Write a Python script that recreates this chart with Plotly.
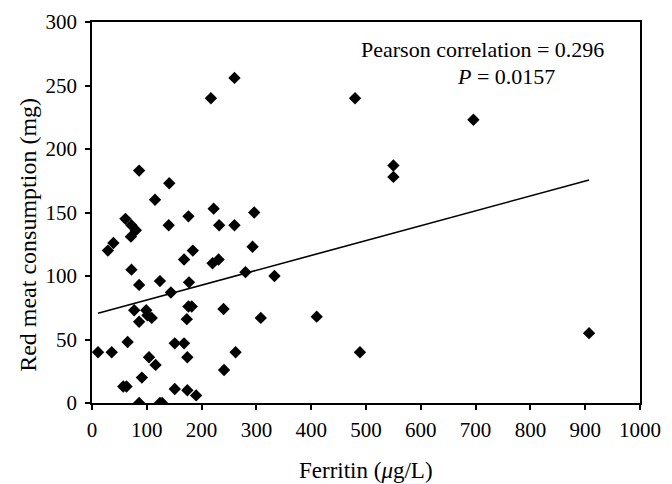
import plotly.graph_objects as go

ferritin = [11, 36, 29, 39, 61, 71, 72, 80, 72, 86, 86, 65, 77, 86, 99, 101, 109,
            57, 63, 91, 86, 104, 116, 124, 128, 115, 124, 141, 140, 144, 151, 151,
            168, 174, 174, 190, 173, 176, 182, 177, 168, 184, 176, 217, 260, 222,
            232, 260, 220, 231, 240, 241, 262, 293, 296, 280, 333, 308, 410, 489,
            480, 696, 550, 550, 907]
red_meat = [40, 40, 120, 126, 145, 131, 140, 136, 105, 93, 183, 48, 73, 64, 73, 69, 67,
            13, 13, 20, 0, 36, 30, 0, 0, 160, 96, 173, 140, 87, 47, 11,
            47, 36, 10, 6, 66, 76, 76, 95, 113, 120, 147, 240, 256, 153,
            140, 140, 110, 113, 74, 26, 40, 123, 150, 103, 100, 67, 68, 40,
            240, 223, 187, 178, 55]

trend_x = [11, 907]
trend_y = [70.6, 175.6]

x_ticks = [0, 100, 200, 300, 400, 500, 600, 700, 800, 900, 1000]
y_ticks = [0, 50, 100, 150, 200, 250, 300]

FONT = "Liberation Serif"

fig = go.Figure()
fig.add_trace(go.Scatter(x=trend_x, y=trend_y, mode="lines",
                         line=dict(color="black", width=1.6), showlegend=False,
                         hoverinfo="skip"))
fig.add_trace(go.Scatter(x=ferritin, y=red_meat, mode="markers",
                         marker=dict(symbol="diamond", size=9.5, color="black"),
                         showlegend=False))

axis_common = dict(showgrid=False, zeroline=False, showline=True, linecolor="black",
                   linewidth=1.5, mirror=True, ticks="outside", ticklen=5,
                   tickcolor="black", tickwidth=1.5, automargin=False,
                   tickfont=dict(family=FONT, size=21, color="black"))

fig.update_xaxes(range=[0, 1000], tickvals=x_ticks, ticktext=[str(v) for v in x_ticks],
                 ticklabelstandoff=2, **axis_common)
fig.update_yaxes(range=[0, 300], tickvals=y_ticks, ticktext=[str(v) for v in y_ticks],
                 ticklabelstandoff=4, **axis_common)

# axis titles
fig.add_annotation(x=0.5, y=-0.176, xref="paper", yref="paper", xanchor="center", yanchor="middle",
                   text="Ferritin (<i>μ</i>g/L)", showarrow=False,
                   font=dict(family=FONT, size=23, color="black"))
fig.add_annotation(x=-0.117, y=0.441, xref="paper", yref="paper", xanchor="center", yanchor="middle",
                   text="Red meat consumption (mg)", showarrow=False, textangle=-90,
                   font=dict(family=FONT, size=24, color="black"))

fig.add_annotation(x=487, y=278, xref="x", yref="y", xanchor="left", yanchor="middle",
                   text="Pearson correlation = 0.296", showarrow=False,
                   font=dict(family=FONT, size=22, color="black"))
fig.add_annotation(x=662, y=257, xref="x", yref="y", xanchor="left", yanchor="middle",
                   text="<i>P</i> = 0.0157", showarrow=False,
                   font=dict(family=FONT, size=22, color="black"))

# the page body adds an 8px offset, so the figure is 8px smaller and margins shifted
fig.update_layout(width=664, height=476, margin=dict(l=84, r=32, t=14, b=81),
                  template="simple_white",
                  plot_bgcolor="white", paper_bgcolor="white")

fig.write_html("out.html")
